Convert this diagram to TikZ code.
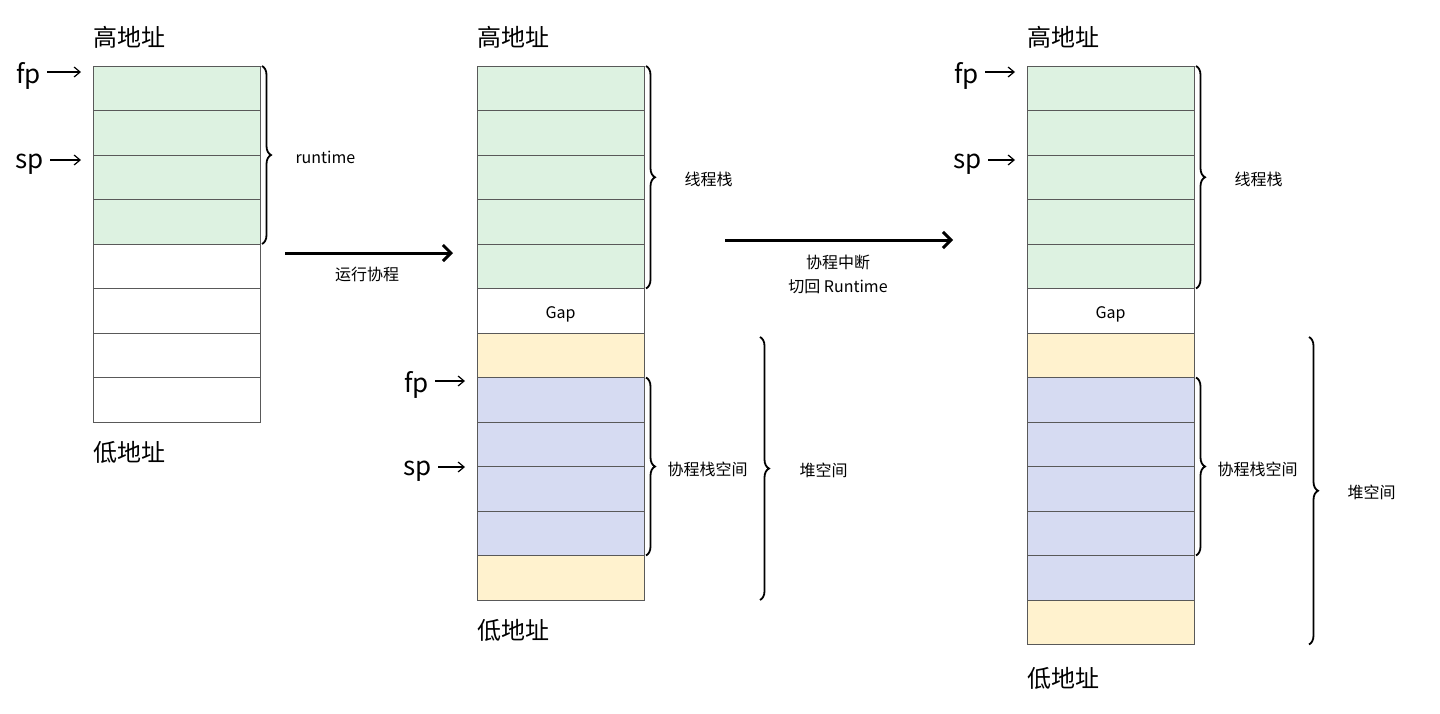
\documentclass[tikz,border=0pt]{standalone}
\usepackage{fontspec}
\setmainfont{Noto Sans CJK SC}
\usetikzlibrary{arrows.meta,decorations.pathreplacing}
\definecolor{stkgreen}{RGB}{221,242,225}
\definecolor{heapyellow}{RGB}{255,242,206}
\definecolor{corblue}{RGB}{214,219,242}

\begin{document}
\begin{tikzpicture}[x=1pt,y=-1pt,
    cell/.style = {rectangle,draw=black!65,line width=0.9pt,minimum width=167pt,minimum height=44.5pt,outer sep=0mm,inner sep=0pt},
    addr/.style = {font=\fontsize{24}{28}\selectfont,anchor=west,inner sep=0pt},
    reg/.style  = {font=\fontsize{26}{30}\selectfont,anchor=east,inner sep=1pt},
    lbl/.style  = {font=\fontsize{16}{24}\selectfont},
    ptr/.style  = {-{Straight Barb[length=6pt,width=10pt]},line width=1.2pt,shorten <=5pt,shorten >=12pt},
    move/.style = {-{Straight Barb[length=8pt,width=16pt]},line width=3pt},
    brc/.style  = {decorate,decoration={brace,amplitude=9pt},line width=1.8pt}]
\useasboundingbox (0,0) rectangle (1440,713);
% first stack
\foreach \clr [count=\j from 0] in {stkgreen,stkgreen,stkgreen,stkgreen,white,white,white,white}
    \node[cell,fill=\clr] (a\j) at (176.5,{88.25+44.5*\j}) {};
% second stack
\foreach \clr [count=\j from 0] in {stkgreen,stkgreen,stkgreen,stkgreen,stkgreen,white,heapyellow,corblue,corblue,corblue,corblue,heapyellow}
    \node[cell,fill=\clr] (b\j) at (560.5,{88.25+44.5*\j}) {};
% third stack
\foreach \clr [count=\j from 0] in {stkgreen,stkgreen,stkgreen,stkgreen,stkgreen,white,heapyellow,corblue,corblue,corblue,corblue,corblue,heapyellow}
    \node[cell,fill=\clr] (c\j) at (1110.5,{88.25+44.5*\j}) {};
\node[lbl] (gap2) at ([yshift=-4pt]b5.center) {Gap};
\node[lbl] (gap3) at ([yshift=-4pt]c5.center) {Gap};

\node[addr] (hi1) at (93,37) {高地址};
\node[addr] (hi2) at (477,37) {高地址};
\node[addr] (hi3) at (1027,37) {高地址};
\node[addr] (lo1) at (93,452) {低地址};
\node[addr] (lo2) at (477,630) {低地址};
\node[addr] (lo3) at (1027,678) {低地址};

\node[reg] (fp1) at (42,76) {fp};
\node[reg] (sp1) at (45,164) {sp};
\node[reg] (fp2) at (430,385) {fp};
\node[reg] (sp2) at (433,471) {sp};
\node[reg] (fp3) at (980,76) {fp};
\node[reg] (sp3) at (983,164) {sp};
\draw[ptr] ([yshift=4pt]fp1.east) -- ([yshift=4pt]fp1.east -| a0.west);
\draw[ptr] ([yshift=4pt]sp1.east) -- ([yshift=4pt]sp1.east -| a0.west);
\draw[ptr] ([yshift=4pt]fp2.east) -- ([yshift=4pt]fp2.east -| b0.west);
\draw[ptr] ([yshift=4pt]sp2.east) -- ([yshift=4pt]sp2.east -| b0.west);
\draw[ptr] ([yshift=4pt]fp3.east) -- ([yshift=4pt]fp3.east -| c0.west);
\draw[ptr] ([yshift=4pt]sp3.east) -- ([yshift=4pt]sp3.east -| c0.west);

% braces
\draw[brc] ([xshift=2pt]a0.north east) -- ([xshift=2pt]a3.south east);
\node[lbl,anchor=west] (rt) at (292,157) {runtime};
\draw[brc] ([xshift=2pt]b0.north east) -- ([xshift=2pt]b4.south east);
\node[lbl,anchor=west] (thr2) at (681,179) {线程栈};
\draw[brc] ([xshift=2pt]b7.north east) -- ([xshift=2pt]b10.south east);
\node[lbl,anchor=west] (cor2) at (664,469) {协程栈空间};
\draw[brc] ([xshift=116pt,yshift=-4pt]b6.north east) -- ([xshift=116pt]b11.south east);
\node[lbl,anchor=west] (heap2) at (796,470) {堆空间};
\draw[brc] ([xshift=2pt]c0.north east) -- ([xshift=2pt]c4.south east);
\node[lbl,anchor=west] (thr3) at (1231,179) {线程栈};
\draw[brc] ([xshift=2pt]c7.north east) -- ([xshift=2pt]c10.south east);
\node[lbl,anchor=west] (cor3) at (1214,469) {协程栈空间};
\draw[brc] ([xshift=115pt,yshift=-4pt]c6.north east) -- ([xshift=115pt]c12.south east);
\node[lbl,anchor=west] (heap3) at (1344,492) {堆空间};

% transitions
\coordinate (m1s) at (285,253);
\coordinate (m1e) at (453,253);
\draw[move] (m1s) -- (m1e);
\node[lbl] (run) at (367,274) {运行协程};
\coordinate (m2s) at (725,240);
\coordinate (m2e) at (953,240);
\draw[move] (m2s) -- (m2e);
\node[lbl,align=center] (back) at (838,274) {协程中断\\切回 Runtime};
\end{tikzpicture}
\end{document}
